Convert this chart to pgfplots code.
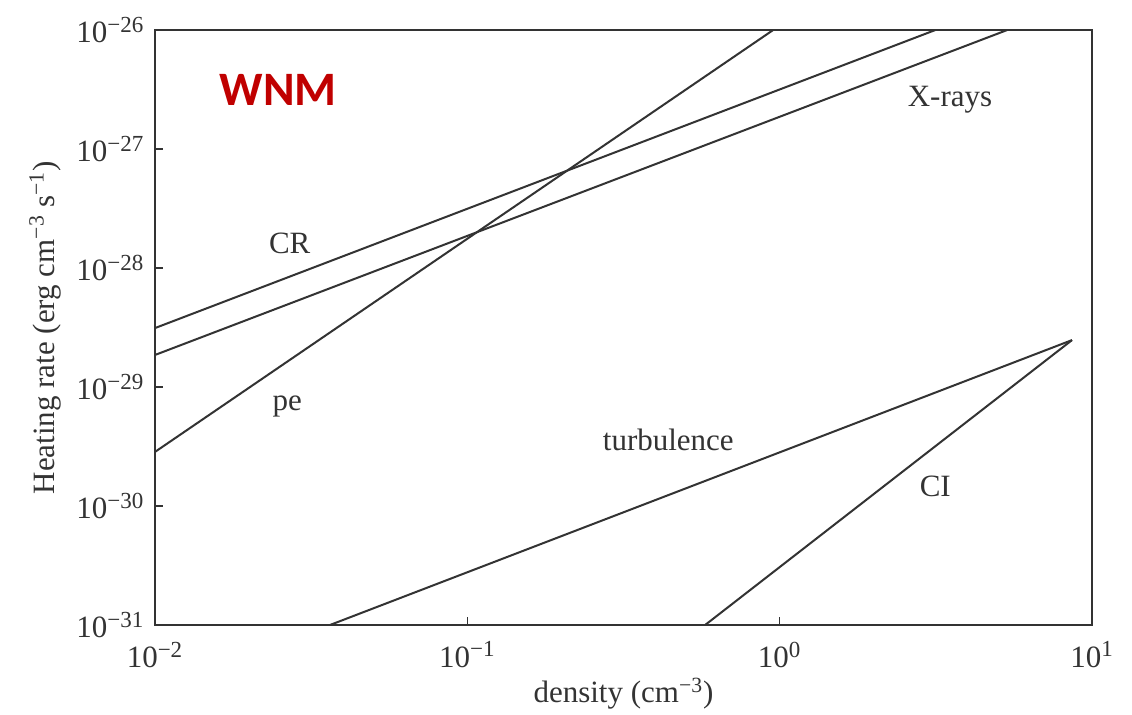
\documentclass[border=0pt]{standalone}
\usepackage{fontspec}
\setmainfont{Liberation Serif}
\newfontfamily\labelsans{Carlito}
\usepackage{pgfplots}
\pgfplotsset{compat=1.18}
\definecolor{framegray}{HTML}{333333}
\definecolor{wnmred}{HTML}{C00000}
% power-of-ten tick label set in the text font
\newcommand{\pw}[1]{10\textsuperscript{\fontsize{11.5}{12}\selectfont #1}}
\begin{document}
\fontsize{15.5}{18}\selectfont
\begin{tikzpicture}
\begin{axis}[
  xmode=log, ymode=log,
  xmin=1e-2, xmax=10, ymin=1e-31, ymax=1e-26,
  scale only axis, width=468.5pt, height=297.5pt,
  axis line style={framegray, line width=1.2pt},
  tick style={framegray, line width=0.8pt},
  major tick length=4pt, tick align=inside,
  xtick pos=bottom, ytick pos=left,
  xminorticks=false, yminorticks=false,
  xtick={0.01,0.1,1,10},
  xticklabels={\pw{−2},\pw{−1},\pw{0},\pw{1}},
  ytick={1e-31,1e-30,1e-29,1e-28,1e-27,1e-26},
  yticklabels={\pw{−31},\pw{−30},\pw{−29},\pw{−28},\pw{−27},\pw{−26}},
  ticklabel style={text=framegray},
  xticklabel style={yshift=-3pt},
  xlabel={density (cm\textsuperscript{−3})},
  ylabel={Heating rate (erg cm\textsuperscript{−3} s\textsuperscript{−1})},
  every axis x label/.style={at={(rel axis cs:0.5,-0.115)}, anchor=center, text=framegray},
  every axis y label/.style={at={(rel axis cs:-0.1174,0.5)}, rotate=90, anchor=center, text=framegray},
]
% heating processes
\addplot[framegray, line width=1pt] coordinates {(0.01,3.13e-29) (3.15,1e-26)};    % CR
\addplot[framegray, line width=1pt] coordinates {(0.01,1.86e-29) (5.35,1e-26)};    % X-rays
\addplot[framegray, line width=1pt] coordinates {(0.01,2.85e-30) (0.953,1e-26)};   % pe
\addplot[framegray, line width=1pt] coordinates {(0.0363,1e-31) (8.63,2.48e-29)};  % turbulence
\addplot[framegray, line width=1pt] coordinates {(0.577,1e-31) (8.63,2.48e-29)};   % CI

\node[text=framegray] at (axis cs:3.51,2.58e-27) {X-rays};
\node[text=framegray] at (axis cs:0.027,1.62e-28) {CR};
\node[text=framegray] at (axis cs:0.0265,6.8e-30) {pe};
\node[text=framegray] at (axis cs:0.44,3.59e-30) {turbulence};
\node[text=framegray] at (axis cs:3.15,1.45e-30) {CI};
\node[text=wnmred, font={\labelsans\bfseries\fontsize{24}{28}\selectfont}]
  at (axis cs:0.0248,3.13e-27) {WNM};

\coordinate (sw) at (rel axis cs:0,0);
\coordinate (ne) at (rel axis cs:1,1);
\end{axis}
\pgfresetboundingbox
\useasboundingbox ([xshift=-77.5pt,yshift=-45pt]sw) rectangle ([xshift=20pt,yshift=15pt]ne);
\end{tikzpicture}
\end{document}
